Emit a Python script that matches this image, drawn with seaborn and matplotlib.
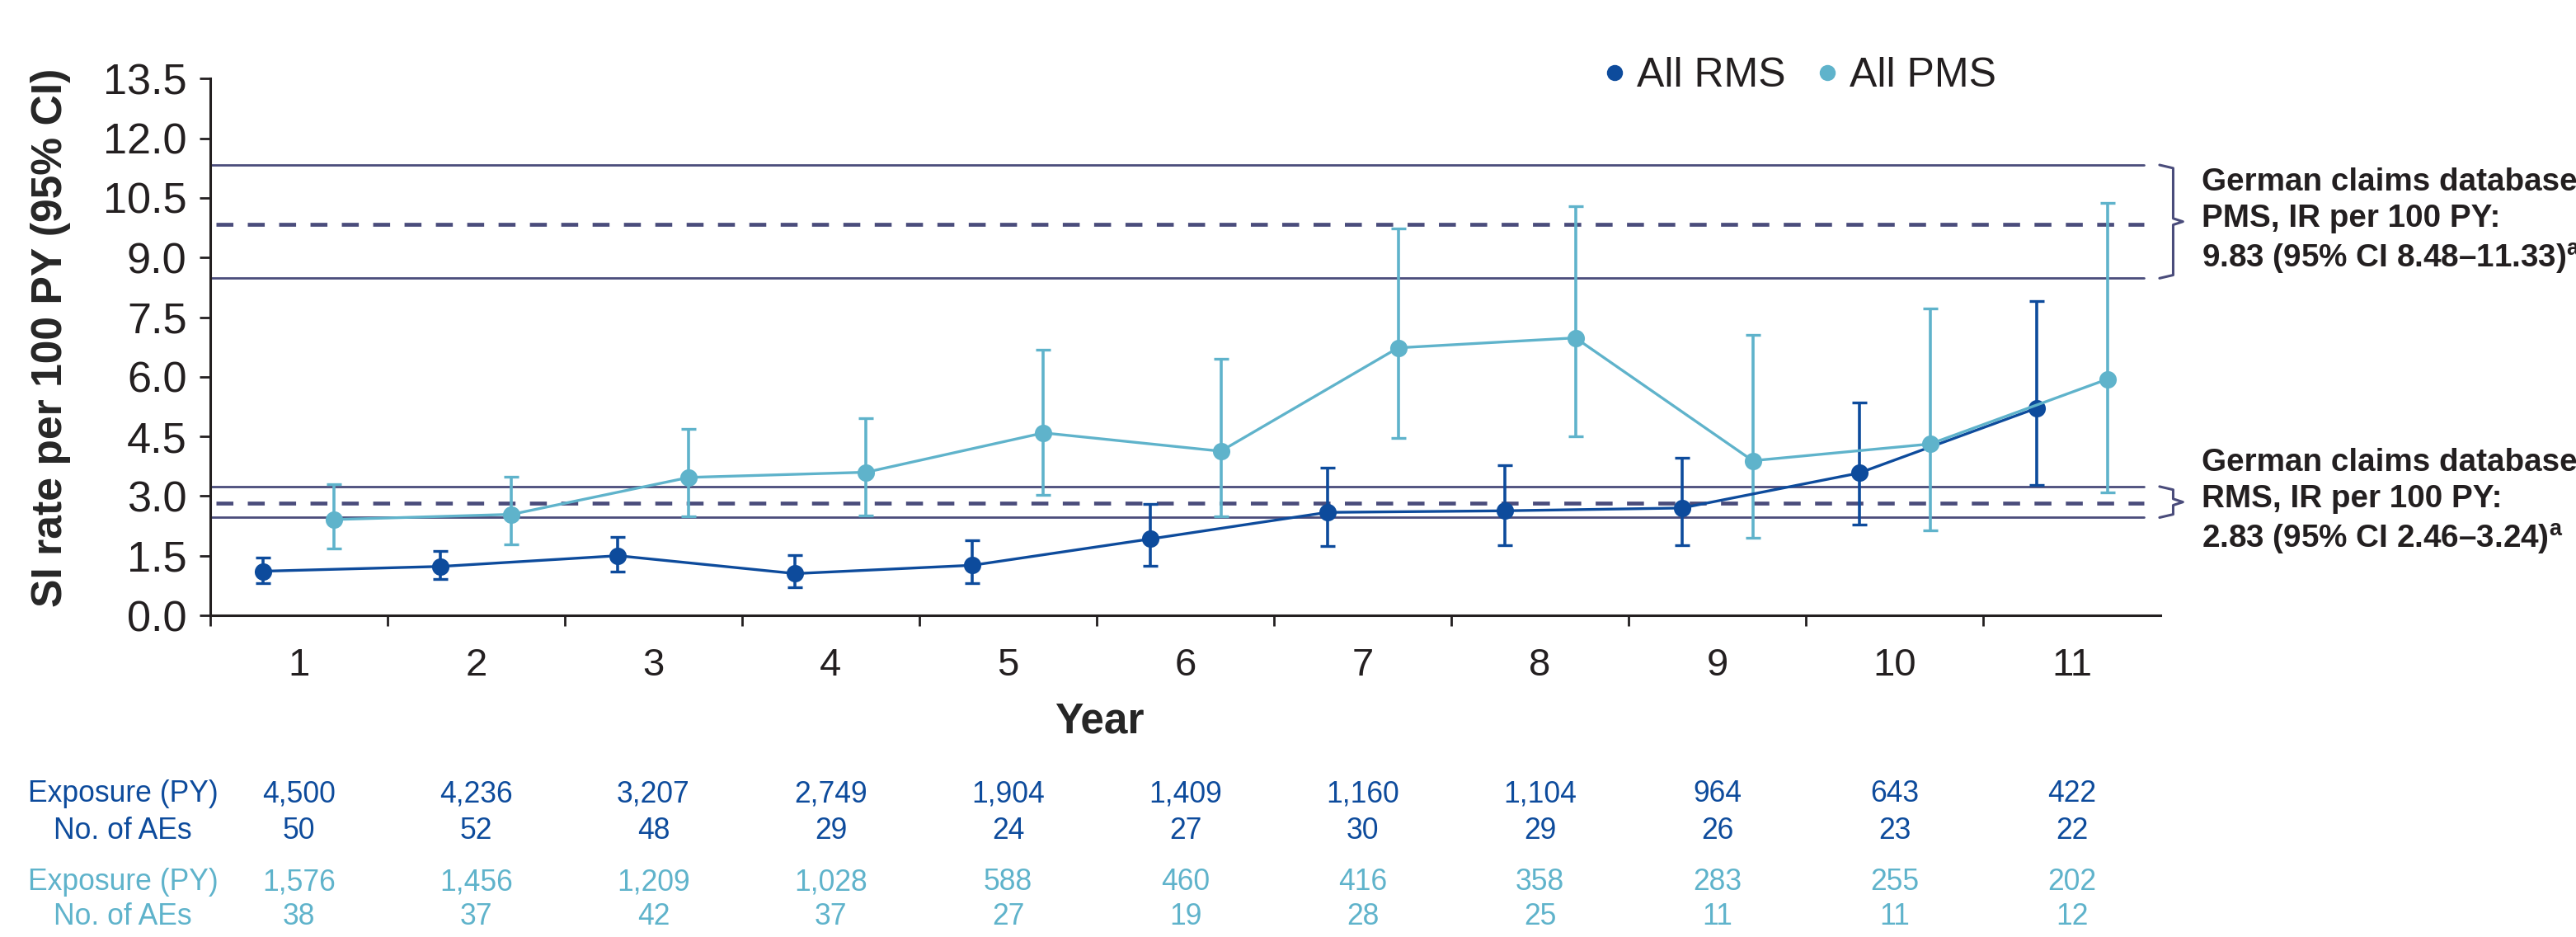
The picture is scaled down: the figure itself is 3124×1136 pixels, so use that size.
import numpy as np
import pandas as pd
import seaborn as sns
import matplotlib.pyplot as plt
import matplotlib.transforms as mtransforms
from matplotlib.lines import Line2D

# ---- data -----------------------------------------------------------------
years = list(range(1, 12))

rms_rate = [1.11, 1.23, 1.50, 1.05, 1.26, 1.92, 2.59, 2.63, 2.70, 3.58, 5.21]
rms_lo = [0.80, 0.91, 1.10, 0.70, 0.80, 1.25, 1.74, 1.76, 1.76, 2.29, 3.28]
rms_hi = [1.46, 1.61, 1.97, 1.52, 1.88, 2.80, 3.71, 3.77, 3.96, 5.36, 7.90]

pms_rate = [2.41, 2.54, 3.47, 3.60, 4.59, 4.13, 6.73, 6.98, 3.89, 4.31, 5.94]
pms_lo = [1.69, 1.78, 2.50, 2.52, 3.03, 2.50, 4.47, 4.51, 1.95, 2.14, 3.09]
pms_hi = [3.30, 3.49, 4.70, 4.96, 6.69, 6.46, 9.74, 10.29, 7.05, 7.71, 10.38]

rms_exposure = ["4,500", "4,236", "3,207", "2,749", "1,904", "1,409",
                "1,160", "1,104", "964", "643", "422"]
rms_aes = ["50", "52", "48", "29", "24", "27", "30", "29", "26", "23", "22"]
pms_exposure = ["1,576", "1,456", "1,209", "1,028", "588", "460",
                "416", "358", "283", "255", "202"]
pms_aes = ["38", "37", "42", "37", "27", "19", "28", "25", "11", "11", "12"]

# German claims database reference rates: (IR, lower CI, upper CI)
claims_pms = (9.83, 8.48, 11.33)
claims_rms = (2.83, 2.46, 3.24)

groups = ["All RMS", "All PMS"]
colors = {"All RMS": "#0d4b9c", "All PMS": "#5fb3cb"}
ref_color = "#4a4c7b"
text_color = "#231f20"

# ---- style ----------------------------------------------------------------
sns.set_style("ticks")
plt.rcParams["font.family"] = ["Liberation Sans", "DejaVu Sans"]
plt.rcParams["mathtext.fontset"] = "custom"
plt.rcParams["mathtext.rm"] = "Liberation Sans"
plt.rcParams["mathtext.bf"] = "Liberation Sans:bold"
plt.rcParams["text.color"] = text_color
plt.rcParams["axes.edgecolor"] = text_color

fig = plt.figure(figsize=(15.62, 5.68), dpi=200)
ax = fig.add_axes([0.0816, 0.3433, 0.8387 - 0.0816, 0.916 - 0.3433])

offset = {"All RMS": -0.2, "All PMS": 0.2}
frames = []
for g, r, lo, hi in [("All RMS", rms_rate, rms_lo, rms_hi),
                     ("All PMS", pms_rate, pms_lo, pms_hi)]:
    frames.append(pd.DataFrame({
        "year": years, "group": g, "rate": r, "lo": lo, "hi": hi,
    }))
df = pd.concat(frames, ignore_index=True)
df["xpos"] = df["year"] + df["group"].map(offset)

# reference bands: solid CI bounds and dashed IR
for ir, lo, hi in (claims_pms, claims_rms):
    for v in (lo, hi):
        ax.axhline(v, xmin=0, xmax=0.9915, color=ref_color, lw=1.0, zorder=1)
    ax.axhline(ir, xmin=0.003, xmax=0.9915, color=ref_color, lw=1.7,
               dashes=(4.35, 3.7), zorder=1)

# series lines with markers
sns.lineplot(data=df, x="xpos", y="rate", hue="group", hue_order=groups,
             palette=colors, marker="o", markersize=7.6, markeredgewidth=0,
             linewidth=1.2, legend=False, ax=ax, zorder=3, sort=False,
             estimator=None)

# 95% CI error bars
for g in groups:
    d = df[df["group"] == g]
    ax.errorbar(d["xpos"], d["rate"],
                yerr=[d["rate"] - d["lo"], d["hi"] - d["rate"]],
                fmt="none", ecolor=colors[g], elinewidth=1.3, capsize=3.3,
                capthick=1.2, zorder=2.5)

# ---- axes -----------------------------------------------------------------
ax.set_xlim(0.5, 11.5)
ax.set_ylim(0, 13.5)
ax.set_yticks(np.arange(0, 13.51, 1.5))
ax.yaxis.set_major_formatter(plt.FormatStrFormatter("%.1f"))
ax.set_xticks(years)
ax.set_xticklabels([str(y) for y in years])
ax.set_xticks(np.arange(0.5, 11, 1.0), minor=True)
ax.tick_params(axis="x", which="major", length=0, pad=14, labelsize=17,
               colors=text_color)
ax.tick_params(axis="x", which="minor", length=4.8, width=1.0,
               direction="out", color=text_color)
ax.tick_params(axis="y", which="major", length=4.8, width=1.0, pad=5.4,
               labelsize=18.8, colors=text_color)
sns.despine(ax=ax)
for s in ("left", "bottom"):
    ax.spines[s].set_linewidth(1.1)

ax.set_ylabel("SI rate per 100 PY (95% CI)", fontsize=18.6,
              fontweight="bold", va="center")
ax.yaxis.set_label_coords(-0.0816, 0.517)
ax.set_xlabel("Year", fontsize=18.5, fontweight="bold", va="center")
ax.xaxis.set_label_coords(0.456, -0.198)

# ---- brackets and annotation text ----------------------------------------
trans = mtransforms.blended_transform_factory(ax.transAxes, ax.transData)
bx0, bx1, bx2 = 0.9995, 1.0065, 1.0115
annot = {
    "PMS": claims_pms,
    "RMS": claims_rms,
}
for name, (ir, lo, hi) in annot.items():
    mid = (lo + hi) / 2
    xs = [bx0, bx1, bx1, bx2, bx1, bx1, bx0]
    ys = [hi, hi - 0.08, mid + 0.08, mid, mid - 0.08, lo + 0.08, lo]
    ax.add_line(Line2D(xs, ys, transform=trans, color=ref_color, lw=1.1,
                       clip_on=False, solid_joinstyle="round"))
    label = (f"German claims database\n{name}, IR per 100 PY:\n"
             f"{ir:.2f} (95% CI {lo:.2f}–{hi:.2f})" + r"$^{\mathbf{a}}$")
    ax.text(1.021, mid, label, transform=trans, ha="left", va="center",
            fontsize=13.9, fontweight="bold", linespacing=1.3,
            clip_on=False)

# ---- legend ---------------------------------------------------------------
handles = [Line2D([], [], linestyle="none", marker="o", markersize=7,
                  markeredgewidth=0, color=colors[g]) for g in groups]
fig.legend(handles, groups, loc="center", bbox_to_anchor=(0.6985, 0.919),
           ncol=2, frameon=False, fontsize=18, handlelength=0.6,
           handletextpad=0.25, columnspacing=0.7)

# ---- exposure / event table ----------------------------------------------
ttrans = mtransforms.blended_transform_factory(ax.transData, fig.transFigure)
rows = [
    ("Exposure (PY)", rms_exposure, colors["All RMS"], 0.1523),
    ("No. of AEs", rms_aes, colors["All RMS"], 0.1127),
    ("Exposure (PY)", pms_exposure, colors["All PMS"], 0.0581),
    ("No. of AEs", pms_aes, colors["All PMS"], 0.0220),
]
for label, vals, c, yf in rows:
    fig.text(0.0477, yf, label, ha="center", va="center", fontsize=12.8,
             color=c)
    for yr, v in zip(years, vals):
        ax.text(yr, yf, v, transform=ttrans, ha="center", va="center",
                fontsize=12.8, color=c, clip_on=False)

fig.savefig("out.png", dpi=200)
